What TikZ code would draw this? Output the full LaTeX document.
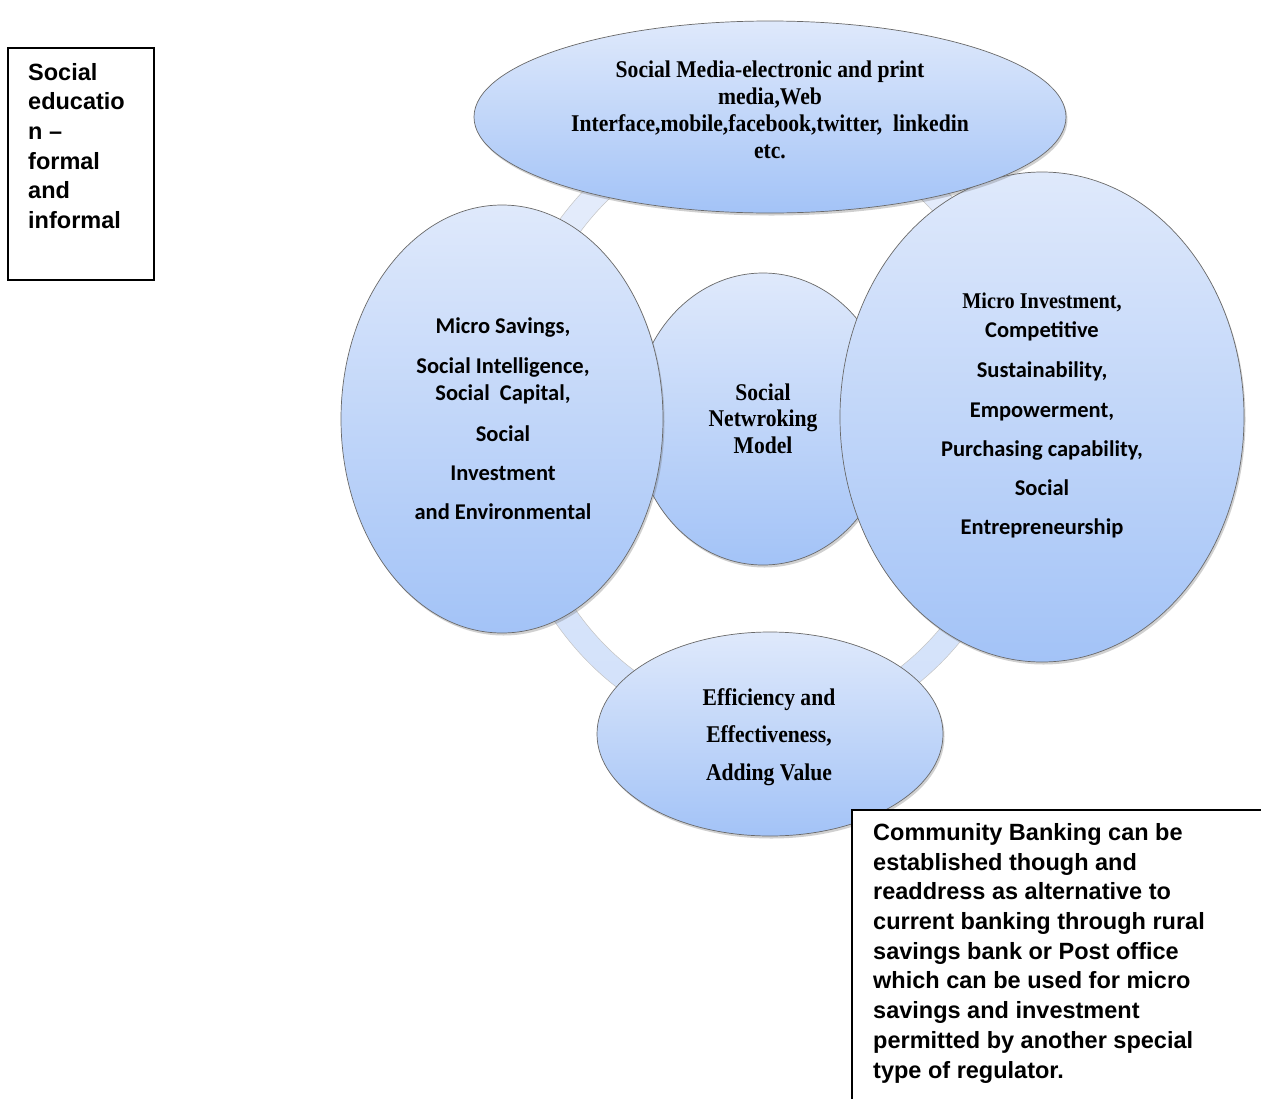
\documentclass[tikz,border=0pt]{standalone}
\usepackage{fontspec}
\setmainfont{Liberation Sans}
\newfontfamily\tnr[FakeStretch=0.9]{Liberation Serif}
\newfontfamily\calib{Carlito}
\usetikzlibrary{shapes.geometric,shadows}
\definecolor{eltop}{RGB}{223,233,251}
\definecolor{elbot}{RGB}{163,195,247}
\definecolor{ringtop}{RGB}{230,237,251}
\definecolor{ringbot}{RGB}{210,225,250}
\definecolor{edgec}{RGB}{105,105,105}
\begin{document}
\begin{tikzpicture}[x=1bp,y=-1bp,
  bubble/.style={ellipse, draw=edgec, line width=0.7bp, inner sep=0pt,
    top color=eltop, bottom color=elbot,
    drop shadow={shadow xshift=1.5bp, shadow yshift=-2.5bp, opacity=0.3, fill=black!60}},
  serifbold/.style={font=\tnr\bfseries\fontsize{24bp}{27bp}\selectfont, align=center, inner sep=0pt},
  calbold/.style={font=\calib\bfseries\fontsize{22.5bp}{27bp}\selectfont, align=center, inner sep=0pt},
  boxtext/.style={font=\bfseries\fontsize{23.5bp}{29.7bp}\selectfont, align=left, inner sep=0pt},
  textbox/.style={draw=black, line width=1.5bp, fill=white, inner sep=0pt}]
\useasboundingbox (0,0) rectangle (1261,1099);
\fill[white] (0,0) rectangle (1261,1099);
% ring
\coordinate (rc) at (765,424);
\shade[top color=ringtop, bottom color=ringbot, even odd rule]
  (rc) ellipse[x radius=270, y radius=315] (rc) ellipse[x radius=246, y radius=291];
\draw[edgec!40, line width=0.5bp]
  (rc) ellipse[x radius=270, y radius=315] (rc) ellipse[x radius=246, y radius=291];
% ellipses
\node[bubble, minimum width=258bp, minimum height=292bp] (ctr) at (763,419) {};
\node[bubble, minimum width=322bp, minimum height=428bp] (lft) at (502,419) {};
\node[bubble, minimum width=404bp, minimum height=490bp] (rgt) at (1042,417) {};
\node[bubble, minimum width=592bp, minimum height=192bp] (top) at (770,117) {};
\node[bubble, minimum width=346bp, minimum height=204bp] (bot) at (770,734) {};
% texts (anchor=base is the baseline of the last line)
\node[serifbold, anchor=base] (toptext) at (770,158)
  {Social Media-electronic and print\\ media,Web\\ Interface,mobile,facebook,twitter,\ \ linkedin\\ etc.};
\node[serifbold, anchor=base] (ctrtext) at (763,453)
  {Social\\[-0.5bp] Netwroking\\[-0.5bp] Model};
\node[serifbold, anchor=base] (bottext) at (769,780)
  {Efficiency and\\[10.5bp] Effectiveness,\\[10.5bp] Adding Value};
\node[calbold, anchor=base] (lfttext) at (503,519)
  {Micro Savings,\\[13bp] Social Intelligence,\\ Social\ \ Capital,\\[14bp] Social\\[12bp] Investment\\[12bp] and Environmental};
\node[calbold, anchor=base] (rgttext) at (1042,534)
  {{\tnr Micro Investment,}\\[2bp] Competitive\\[13bp] Sustainability,\\[13bp] Empowerment,\\[12bp] Purchasing capability,\\[12bp] Social\\[12bp] Entrepreneurship};
% boxes
\node[textbox, anchor=north west, minimum width=146bp, minimum height=232bp] (sbox) at (7,47) {};
\node[boxtext, anchor=base west] (stext) at (28,228.5)
  {Social\\ educatio\\ n --\\ formal\\ and\\ informal};
\node[textbox, anchor=north west, minimum width=440bp, minimum height=320bp] (cbox) at (851,809) {};
\node[boxtext, anchor=base west] (ctext) at (873,1078)
  {Community Banking can be\\ established though and\\ readdress as alternative to\\ current banking through rural\\ savings bank or Post office\\ which can be used for micro\\ savings and investment\\ permitted by another special\\ type of regulator.};
\end{tikzpicture}
\end{document}
